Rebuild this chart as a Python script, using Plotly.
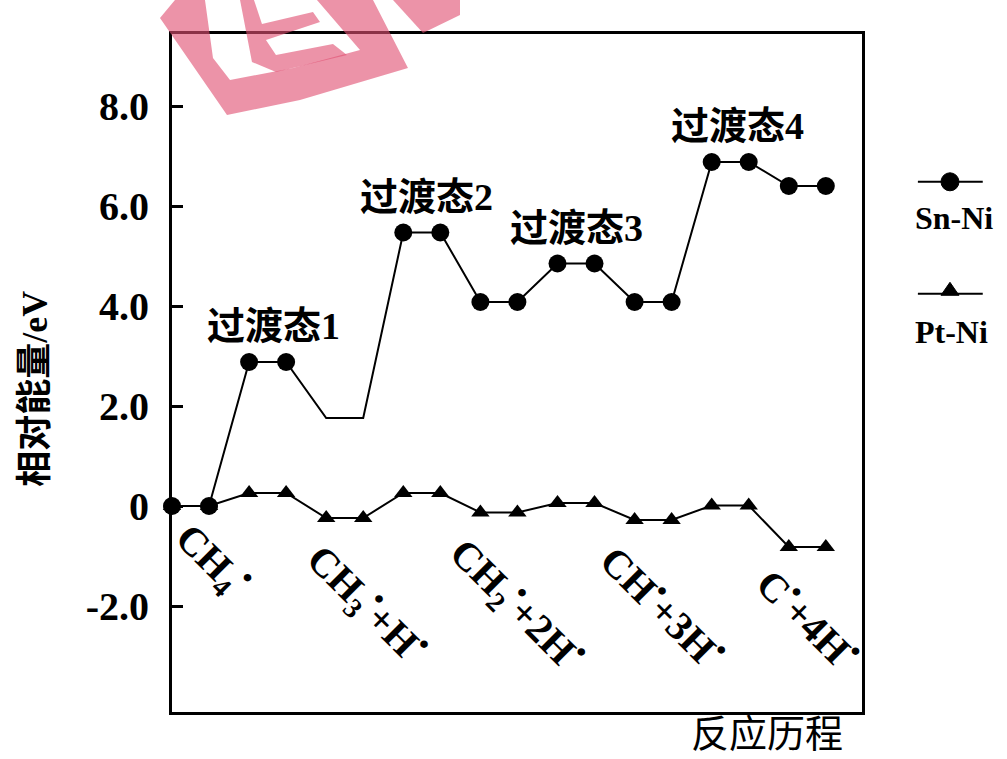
import plotly.graph_objects as go

# Reaction stages (intermediates and transition states), each drawn as a short plateau
stages = ["IS", "TS1", "IM1", "TS2", "IM2", "TS3", "IM3", "TS4", "FS"]
sn_ni_energy = [0.0, 2.88, 1.76, 5.47, 4.08, 4.85, 4.08, 6.88, 6.40]
pt_ni_energy = [0.0, 0.26, -0.24, 0.26, -0.13, 0.06, -0.28, 0.01, -0.82]
sn_ni_marked = [True, True, False, True, True, True, True, True, True]

ts_labels = ["过渡态1", "过渡态2", "过渡态3", "过渡态4"]
ts_stage_index = [1, 3, 5, 7]

species_labels = [
    "CH<sub>4</sub><sup>•</sup>",
    "CH<sub>3</sub><sup>•</sup>+H<sup>•</sup>",
    "CH<sub>2</sub><sup>•</sup>+2H<sup>•</sup>",
    "CH<sup>•</sup>+3H<sup>•</sup>",
    "C<sup>•</sup>+4H<sup>•</sup>",
]
species_stage_index = [0, 2, 4, 6, 8]

y_tick_vals = [8, 6, 4, 2, 0, -2]
y_tick_text = ["8.0", "6.0", "4.0", "2.0", "0", "-2.0"]

SERIF = "Liberation Serif, Times New Roman, Noto Sans CJK SC, serif"
CJK = "Liberation Serif, Noto Sans CJK SC, sans-serif"
HALF = 0.24  # half width of each plateau


def plateau(values):
    xs, ys = [], []
    for i, v in enumerate(values):
        xs += [i - HALF, i + HALF]
        ys += [v, v]
    return xs, ys


fig = go.Figure()

px, py = plateau(pt_ni_energy)
fig.add_trace(go.Scatter(
    x=px, y=py, mode="lines+markers", name="Pt-Ni",
    line=dict(color="black", width=2),
    marker=dict(symbol="triangle-up", size=16, color="black", opacity=1,
                line=dict(width=0)),
    cliponaxis=False, showlegend=False,
))

sx, sy = plateau(sn_ni_energy)
sizes = []
for m in sn_ni_marked:
    sizes += [18, 18] if m else [0, 0]
fig.add_trace(go.Scatter(
    x=sx, y=sy, mode="lines+markers", name="Sn-Ni",
    line=dict(color="black", width=2),
    marker=dict(symbol="circle", size=sizes, color="black", opacity=1,
                line=dict(width=0)),
    cliponaxis=False, showlegend=False,
))

annotations = []
# transition-state captions above the Sn-Ni plateaus
ts_xshift = [6, 5, 0, 7]
for lab, idx, dx in zip(ts_labels, ts_stage_index, ts_xshift):
    annotations.append(dict(
        x=idx, y=sn_ni_energy[idx], xref="x", yref="y", text=lab,
        showarrow=False, xanchor="center", yanchor="middle",
        xshift=dx, yshift=36,
        font=dict(family=CJK, size=38, color="black", weight="bold"),
    ))

# slanted species captions under the profile
sp_xshift = [22, 22, 18, 11, 2]
sp_y = [-1.08, -1.96, -1.98, -2.0, -2.24]
for lab, idx, dx, yy in zip(species_labels, species_stage_index, sp_xshift, sp_y):
    annotations.append(dict(
        x=idx, y=yy, xref="x", yref="y", text=lab, textangle=45,
        showarrow=False, xanchor="center", yanchor="middle", xshift=dx,
        font=dict(family=SERIF, size=40, color="black", weight="bold"),
    ))

# axis captions
annotations.append(dict(
    x=-0.199, y=0.5, xref="paper", yref="paper", text="相对能量/eV",
    textangle=-90, showarrow=False, xanchor="center", yanchor="middle", yshift=-16,
    font=dict(family=CJK, size=36, color="black", weight="bold"),
))
annotations.append(dict(
    x=0.862, y=-0.028, xref="paper", yref="paper", text="反应历程",
    showarrow=False, xanchor="center", yanchor="middle", borderpad=0,
    font=dict(family="Noto Sans CJK SC, sans-serif", size=38, color="black"),
))

# legend captions
annotations.append(dict(
    x=1.074, y=0.729, xref="paper", yref="paper", text="Sn-Ni",
    showarrow=False, xanchor="left", yanchor="middle",
    font=dict(family=SERIF, size=32, color="black", weight="bold"),
))
annotations.append(dict(
    x=1.074, y=0.56, xref="paper", yref="paper", text="Pt-Ni",
    showarrow=False, xanchor="left", yanchor="middle",
    font=dict(family=SERIF, size=32, color="black", weight="bold"),
))

shapes = []
# legend samples
for yy in (0.782, 0.617):
    shapes.append(dict(type="line", xref="paper", yref="paper",
                       x0=1.081, x1=1.175, y0=yy, y1=yy,
                       line=dict(color="black", width=2)))
shapes.append(dict(type="circle", xref="paper", yref="paper",
                   xsizemode="pixel", ysizemode="pixel",
                   xanchor=1.1275, yanchor=0.782,
                   x0=-9, x1=9, y0=-9, y1=9,
                   fillcolor="black", line=dict(color="black", width=1)))
shapes.append(dict(type="path", xref="paper", yref="paper",
                   xsizemode="pixel", ysizemode="pixel",
                   xanchor=1.1275, yanchor=0.622,
                   path="M -9 -5 L 9 -5 L 0 8 Z",
                   fillcolor="black", line=dict(color="black", width=1)))

# pink stamp in the upper left corner (pixel outline mapped to paper units)
W, H, L, B = 690.0, 678.0, 172.0, 712.0


def stamp_path(pts):
    seg = ["{} {:.4f} {:.4f}".format("M" if k == 0 else "L", (x - L) / W, (B - y) / H)
           for k, (x, y) in enumerate(pts)]
    return " ".join(seg) + " Z"


stamp_parts = [
    [(160, 18), (175, 0), (205, 0), (213, 58), (230, 80), (293, 68), (360, 50),
     (317, 0), (373, 0), (408, 68), (300, 100), (227, 115)],
    [(240, 0), (254, 0), (262, 24), (313, 12), (320, 22), (266, 40), (276, 55),
     (333, 44), (347, 55), (276, 72), (252, 62)],
    [(393, 0), (460, 0), (460, 15), (423, 33)],
]
for part in stamp_parts:
    shapes.append(dict(type="path", xref="paper", yref="paper", layer="above",
                       path=stamp_path(part), fillcolor="rgba(225,80,115,0.62)",
                       line=dict(width=0)))

fig.update_layout(
    width=1007, height=759,
    margin=dict(l=172, r=145, t=34, b=47),
    paper_bgcolor="white", plot_bgcolor="white",
    annotations=annotations, shapes=shapes, showlegend=False,
    xaxis=dict(range=[-HALF, -HALF + 690 / 77.1], showticklabels=False, ticks="",
               showgrid=False, zeroline=False, showline=True, linecolor="black",
               linewidth=3, mirror=True),
    yaxis=dict(range=[-4.12, 9.44], tickvals=y_tick_vals, ticktext=y_tick_text,
               ticks="inside", ticklen=11, tickwidth=2.5, tickcolor="black",
               showgrid=False, zeroline=False, showline=True, linecolor="black",
               linewidth=3, mirror=True, ticklabelstandoff=12,
               tickfont=dict(family=SERIF, size=40, color="black", weight="bold")),
)

fig.write_html("out.html")
